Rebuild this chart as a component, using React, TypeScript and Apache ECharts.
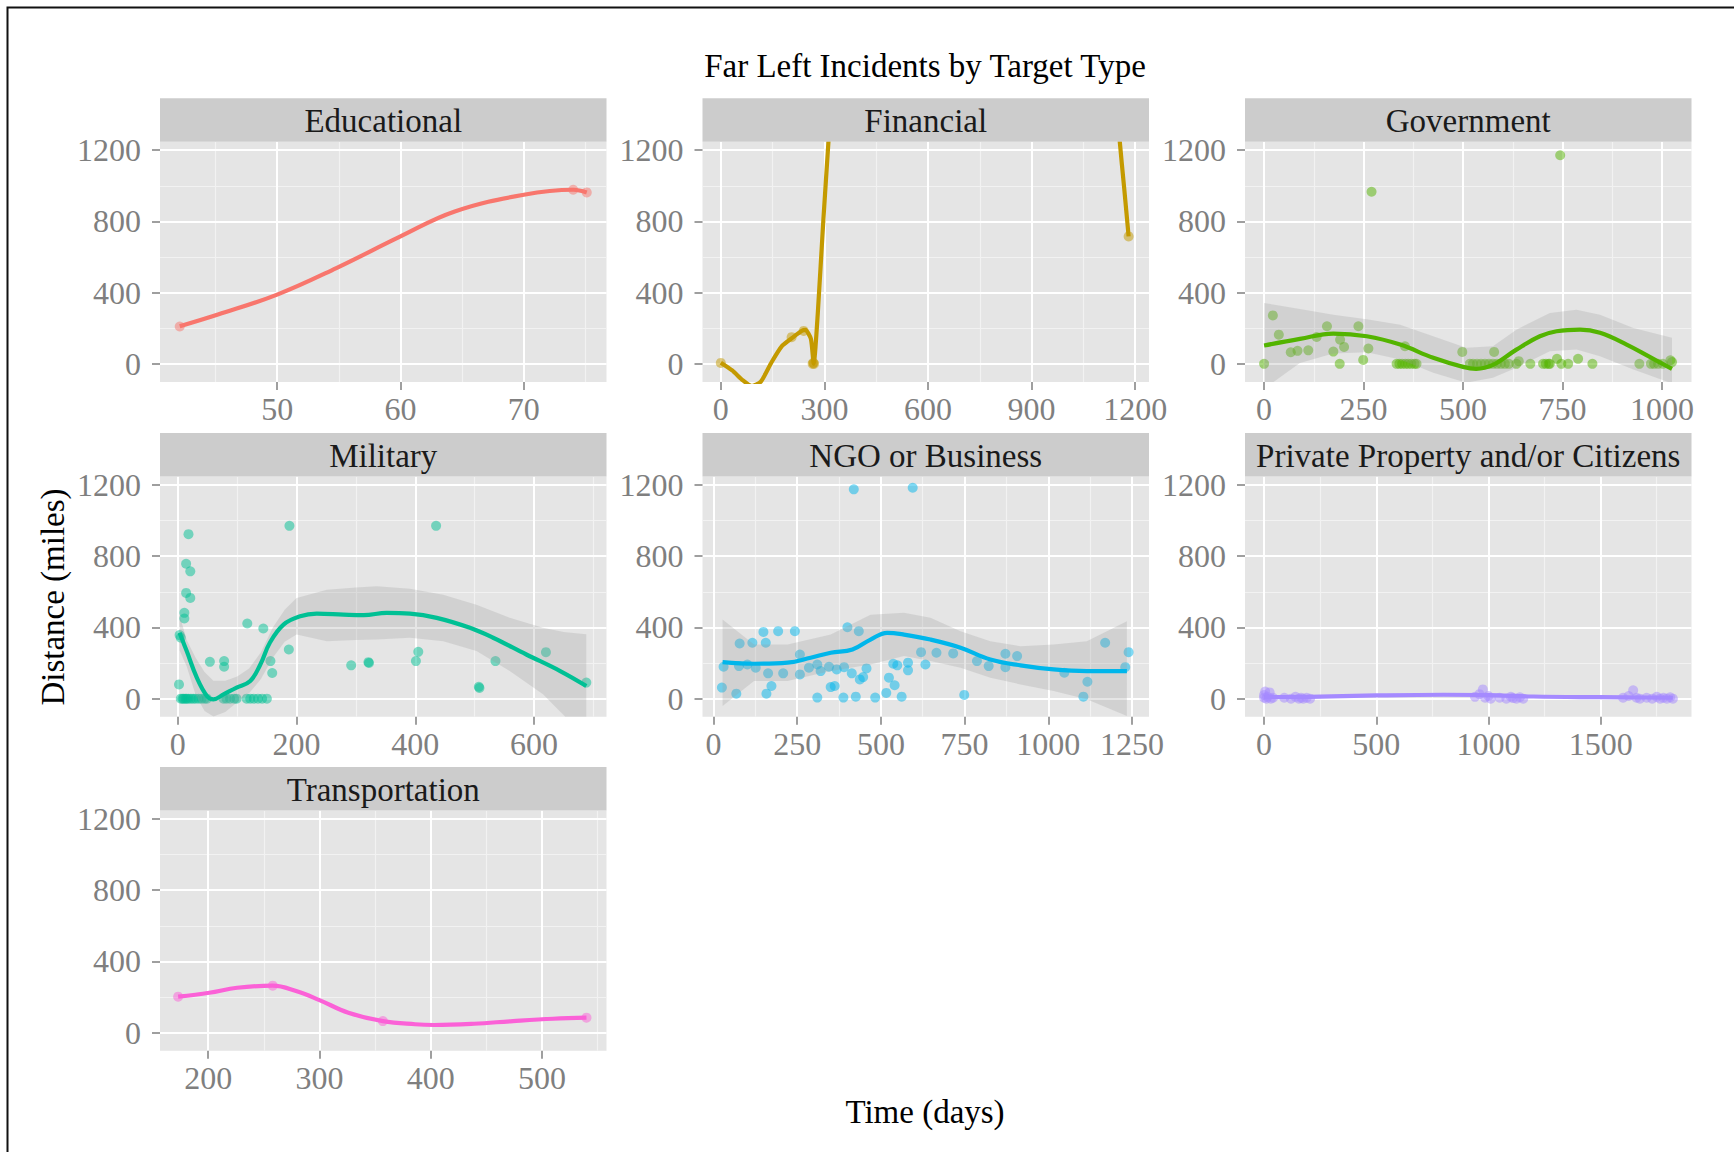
import React, { useEffect, useRef } from "react";
import * as echarts from "echarts";

const FONT = '"Liberation Serif", "Times New Roman", serif';

// ---- shared y scale ----
const yRange = [-102, 1248];
const yTicks = [0, 400, 800, 1200];
const yMinor = [200, 600, 1000];

// ---- panel names and colours ----
const panelTitles = [
  "Educational",
  "Financial",
  "Government",
  "Military",
  "NGO or Business",
  "Private Property and/or Citizens",
  "Transportation",
];
const panelColors = ["#F8766D", "#C49A00", "#53B400", "#00C094", "#00B6EB", "#A58AFF", "#FB61D7"];

// ---- Educational ----
const eduXRange = [40.5, 76.7];
const eduTicks = [50, 60, 70];
const eduMinor = [45, 55, 65, 75];
const eduPoints = [[42.1, 210], [74.0, 978], [75.1, 963]];
const eduSmooth = [[42.1, 211], [45.2, 277], [50, 389], [54.8, 538], [60, 716], [64.4, 856], [70, 950], [74, 978], [75.1, 963]];

// ---- Financial ----
const finXRange = [-53, 1240];
const finTicks = [0, 300, 600, 900, 1200];
const finMinor = [150, 450, 750, 1050];
const finPoints = [[0, 5], [205, 150], [240, 185], [266, 0], [268, 6], [270, 0], [1181, 716]];
const finSmooth = [
  [0, 6], [33, -37], [64, -93], [90, -125], [116, -100], [147, 9], [178, 102], [209, 149], [235, 186],
  [245, 191], [261, 140], [269, 0], [281, 288], [297, 809], [312, 1256], [340, 2100], [600, 6000],
  [900, 5500], [1130, 1900], [1155, 1256], [1168, 990], [1181, 716],
];

// ---- Government ----
const govXRange = [-48, 1074];
const govTicks = [0, 250, 500, 750, 1000];
const govMinor = [125, 375, 625, 875];
const govPoints = [
  [270, 967], [744, 1172], [22, 272], [0, 0], [37, 164], [67, 65], [84, 73], [111, 76], [132, 151],
  [158, 211], [174, 69], [191, 136], [190, 0], [201, 95], [237, 211], [249, 22], [262, 86], [354, 99],
  [333, 0], [340, 0], [347, 0], [355, 0], [362, 0], [370, 0], [378, 0], [383, 0],
  [498, 67], [578, 67], [640, 15], [669, 0], [736, 28], [789, 28],
  [517, 0], [525, 0], [535, 0], [545, 0], [555, 0], [565, 0], [575, 0], [585, 0], [595, 0], [605, 0], [615, 0], [634, 0],
  [701, 0], [708, 0], [715, 0], [718, 0], [747, 0], [764, 0], [825, 0],
  [943, 0], [972, 0], [980, 0], [990, 0], [1002, 0], [1021, 20], [1025, 10],
];
const govSmooth = [
  [0, 103], [90, 140], [174, 170], [258, 155], [342, 108], [425, 34], [500, -17], [533, -28], [575, -6],
  [634, 80], [693, 155], [735, 183], [794, 192], [844, 174], [911, 108], [969, 39], [1025, -28],
];
const govUpper = [
  [0, 342], [90, 308], [174, 276], [258, 250], [342, 220], [425, 155], [508, 90], [575, 99], [634, 192],
  [718, 286], [785, 304], [844, 276], [928, 202], [1025, 146],
];
const govLower = [
  [0, -140], [90, 5], [174, 58], [258, 65], [342, 24], [425, -50], [508, -106], [575, -78], [634, -22],
  [718, 71], [785, 80], [844, 43], [928, -32], [1025, -110],
];

// ---- Military ----
const milXRange = [-30, 722];
const milTicks = [0, 200, 400, 600];
const milMinor = [100, 300, 500, 700];
const milPoints = [
  [188, 971], [435, 971], [18, 924], [14, 758], [21, 715], [14, 594], [21, 566], [11, 482], [11, 450],
  [3, 357], [5, 342], [2, 80], [117, 422], [144, 394], [187, 276], [54, 207], [78, 211], [78, 179],
  [156, 211], [159, 144], [292, 187], [321, 205], [322, 200], [401, 211], [405, 263], [507, 67], [508, 60],
  [535, 211], [620, 261], [688, 90],
  [5, 0], [8, 0], [10, 0], [13, 0], [15, 0], [18, 0], [22, 0], [26, 0], [30, 0], [35, 0], [40, 0], [45, 0], [49, 0],
  [77, 0], [82, 0], [88, 0], [95, 0], [99, 0], [116, 0], [122, 0], [128, 0], [135, 0], [142, 0], [150, 0],
];
const milSmooth = [
  [3, 370], [15, 267], [32, 118], [49, 15], [60, -4], [77, 24], [99, 62], [122, 99], [139, 192], [155, 314],
  [178, 416], [206, 463], [234, 478], [279, 472], [313, 469], [352, 482], [391, 478], [436, 454], [492, 398],
  [531, 342], [587, 248], [644, 155], [688, 71],
];
const milUpper = [
  [3, 470], [15, 330], [30, 230], [45, 150], [60, 100], [80, 100], [100, 125], [120, 170], [140, 260],
  [160, 400], [180, 500], [200, 566], [251, 612], [300, 625], [335, 631], [391, 618], [447, 584],
  [503, 528], [559, 454], [615, 398], [650, 375], [688, 362],
];
const milLower = [
  [3, 270], [15, 180], [30, 20], [45, -70], [60, -100], [80, -75], [100, -20], [120, 30], [140, 110],
  [160, 230], [180, 320], [200, 360], [251, 323], [300, 330], [335, 332], [391, 342], [447, 323],
  [503, 267], [559, 155], [615, 24], [640, -60], [688, -220],
];

// ---- NGO or Business ----
const ngoXRange = [-33, 1301];
const ngoTicks = [0, 250, 500, 750, 1000, 1250];
const ngoMinor = [125, 375, 625, 875, 1125];
const ngoPoints = [
  [419, 1176], [595, 1185], [25, 62], [30, 179], [68, 28], [76, 183], [78, 310], [116, 314], [101, 192],
  [126, 174], [149, 375], [156, 314], [158, 28], [163, 142], [173, 71], [193, 379], [208, 142], [243, 379],
  [258, 248], [258, 136], [285, 174], [310, 6], [310, 192], [320, 155], [345, 179], [350, 65], [362, 71],
  [368, 164], [388, 6], [390, 177], [400, 401], [413, 142], [425, 11], [434, 379], [437, 108], [447, 121],
  [457, 170], [483, 6], [516, 32], [524, 118], [537, 196], [541, 75], [549, 187], [562, 11], [581, 202],
  [581, 159], [620, 261], [633, 192], [666, 258], [716, 254], [749, 21], [787, 211], [822, 183], [872, 252],
  [872, 177], [907, 239], [1048, 146], [1105, 11], [1117, 95], [1170, 314], [1230, 177], [1240, 261],
];
const ngoSmooth = [
  [27, 205], [121, 196], [221, 202], [290, 230], [350, 258], [415, 276], [469, 332], [519, 370], [569, 360],
  [648, 332], [738, 286], [827, 220], [917, 187], [1016, 164], [1115, 155], [1235, 155],
];
const ngoUpper = [
  [27, 444], [121, 304], [221, 304], [350, 360], [469, 472], [569, 482], [648, 454], [738, 379], [827, 323],
  [917, 295], [1016, 304], [1115, 323], [1235, 435],
];
const ngoLower = [
  [27, -41], [121, 99], [221, 99], [350, 155], [469, 192], [569, 239], [648, 211], [738, 174], [827, 118],
  [917, 80], [1016, 43], [1115, -4], [1235, -97],
];

// ---- Private Property and/or Citizens ----
const priXRange = [-85, 1905];
const priTicks = [0, 500, 1000, 1500];
const priMinor = [250, 750, 1250, 1750];
const priPoints = [
  [0, 20], [5, 40], [15, 10], [25, 35], [40, 5], [30, 0], [10, 0], [0, 5],
  [90, 5], [120, 0], [140, 10], [155, 0], [165, 5], [175, 0], [190, 5], [205, 0],
  [940, 10], [960, 25], [975, 52], [985, 5], [1000, 15], [1010, 0],
  [1050, 5], [1080, 0], [1100, 10], [1110, 3], [1125, 0], [1140, 8], [1155, 0],
  [1600, 5], [1625, 15], [1645, 47], [1660, 5], [1675, 0],
  [1705, 5], [1730, 0], [1750, 10], [1765, 0], [1780, 5], [1795, 0], [1810, 8], [1822, 0],
];
const priSmooth = [[0, 8], [200, 10], [500, 18], [800, 22], [1000, 20], [1200, 12], [1500, 8], [1822, 5]];

// ---- Transportation ----
const traXRange = [156.7, 558];
const traTicks = [200, 300, 400, 500];
const traMinor = [250, 350, 450, 550];
const traPoints = [[173, 202], [258, 264], [357, 65], [540, 84]];
const traSmooth = [
  [173, 202], [201, 224], [226, 252], [258, 264], [279, 234], [300, 183], [326, 112], [357, 65], [386, 47],
  [403, 43], [439, 50], [474, 65], [510, 78], [540, 84],
];

const panels = [
  { xRange: eduXRange, ticks: eduTicks, minor: eduMinor, points: eduPoints, smooth: eduSmooth, smoothK: 0.4 },
  { xRange: finXRange, ticks: finTicks, minor: finMinor, points: finPoints, smooth: finSmooth, smoothK: 0.2 },
  { xRange: govXRange, ticks: govTicks, minor: govMinor, points: govPoints, smooth: govSmooth, upper: govUpper, lower: govLower, smoothK: 0.4 },
  { xRange: milXRange, ticks: milTicks, minor: milMinor, points: milPoints, smooth: milSmooth, upper: milUpper, lower: milLower, smoothK: 0.4 },
  { xRange: ngoXRange, ticks: ngoTicks, minor: ngoMinor, points: ngoPoints, smooth: ngoSmooth, upper: ngoUpper, lower: ngoLower, smoothK: 0.4 },
  { xRange: priXRange, ticks: priTicks, minor: priMinor, points: priPoints, smooth: priSmooth, smoothK: 0.4 },
  { xRange: traXRange, ticks: traTicks, minor: traMinor, points: traPoints, smooth: traSmooth, smoothK: 0.4 },
];

// layout
const colLeft = [160, 702.5, 1245];
const rowTop = [141.7, 476.5, 810.5];
const plotW = 446.5;
const plotH = 240.3;
const stripH = 43.5;
const cellPos = [[0, 0], [0, 1], [0, 2], [1, 0], [1, 1], [1, 2], [2, 0]];

const plainNumber = (v: number) => String(v);

function buildOption() {
  const grid: any[] = [];
  const xAxis: any[] = [];
  const yAxis: any[] = [];
  const series: any[] = [];
  const graphic: any[] = [];

  panels.forEach((p: any, i: number) => {
    const [r, c] = cellPos[i];
    const left = colLeft[c];
    const top = rowTop[r];
    grid.push({
      left, top, width: plotW, height: plotH, show: true,
      backgroundColor: "#E5E5E5", borderWidth: 0, containLabel: false,
    });
    // minor x
    xAxis.push({
      type: "value", gridIndex: i, min: p.xRange[0], max: p.xRange[1], z: 1,
      axisLine: { show: false, onZero: false },
      axisTick: { show: false, customValues: p.minor },
      axisLabel: { show: false, customValues: p.minor },
      splitLine: { show: true, lineStyle: { color: "#F2F2F2", width: 1.2 } },
    });
    // major x
    xAxis.push({
      type: "value", gridIndex: i, min: p.xRange[0], max: p.xRange[1], position: "bottom", z: 2,
      axisLine: { show: false, onZero: false },
      axisTick: { show: true, length: 8, customValues: p.ticks, lineStyle: { color: "#7F7F7F", width: 1.5 } },
      axisLabel: {
        customValues: p.ticks, color: "#7F7F7F", fontFamily: FONT, fontSize: 32, margin: 11,
        hideOverlap: false, showMinLabel: true, showMaxLabel: true, formatter: plainNumber,
      },
      splitLine: { show: true, lineStyle: { color: "#FFFFFF", width: 2 } },
    });
    // minor y
    yAxis.push({
      type: "value", gridIndex: i, min: yRange[0], max: yRange[1], z: 1,
      axisLine: { show: false, onZero: false },
      axisTick: { show: false, customValues: yMinor },
      axisLabel: { show: false, customValues: yMinor },
      splitLine: { show: true, lineStyle: { color: "#F2F2F2", width: 1.2 } },
    });
    // major y
    yAxis.push({
      type: "value", gridIndex: i, min: yRange[0], max: yRange[1], position: "left", z: 2,
      axisLine: { show: false, onZero: false },
      axisTick: { show: true, length: 8, customValues: yTicks, lineStyle: { color: "#7F7F7F", width: 1.5 } },
      axisLabel: {
        customValues: yTicks, color: "#7F7F7F", fontFamily: FONT, fontSize: 32, margin: 19,
        hideOverlap: false, showMinLabel: true, showMaxLabel: true, formatter: plainNumber,
      },
      splitLine: { show: true, lineStyle: { color: "#FFFFFF", width: 2 } },
    });

    const xi = 2 * i + 1;
    const yi = 2 * i + 1;
    const color = panelColors[i];

    series.push({
      type: "scatter", xAxisIndex: xi, yAxisIndex: yi, data: p.points, symbolSize: 10, z: 3,
      itemStyle: { color, opacity: 0.5 }, silent: true, clip: true,
    });
    if (p.upper) {
      const upper = p.upper;
      const lower = p.lower;
      series.push({
        type: "custom", xAxisIndex: xi, yAxisIndex: yi, clip: true, silent: true, z: 4,
        data: [[upper[0][0], upper[0][1]]],
        renderItem: (_params: any, api: any) => {
          const pts: number[][] = [];
          for (let k = 0; k < upper.length; k++) pts.push(api.coord(upper[k]));
          for (let k = lower.length - 1; k >= 0; k--) pts.push(api.coord(lower[k]));
          return {
            type: "polygon",
            shape: { points: pts },
            style: { fill: "rgba(153,153,153,0.26)" },
          };
        },
      });
    }
    series.push({
      type: "line", xAxisIndex: xi, yAxisIndex: yi, data: p.smooth, smooth: p.smoothK,
      showSymbol: false, z: 5, silent: true, clip: true,
      lineStyle: { color, width: 4.2 },
    });

    // strip
    graphic.push({
      type: "rect", shape: { x: left, y: top - stripH, width: plotW, height: stripH },
      style: { fill: "#CCCCCC" }, silent: true, z: 10,
    });
    graphic.push({
      type: "text", x: left + plotW / 2, y: top - stripH / 2 + 1, silent: true, z: 11,
      style: {
        text: panelTitles[i], fill: "#1A1A1A", fontSize: 33, fontFamily: FONT,
        align: "center", verticalAlign: "middle",
      },
    });
  });

  // title and axis titles
  graphic.push({
    type: "text", x: 925, y: 66, silent: true,
    style: { text: "Far Left Incidents by Target Type", fill: "#000000", fontSize: 33, fontFamily: FONT, align: "center", verticalAlign: "middle" },
  });
  graphic.push({
    type: "text", x: 925, y: 1112, silent: true,
    style: { text: "Time (days)", fill: "#000000", fontSize: 33, fontFamily: FONT, align: "center", verticalAlign: "middle" },
  });
  graphic.push({
    type: "text", x: 53, y: 597, rotation: Math.PI / 2, silent: true,
    style: { text: "Distance (miles)", fill: "#000000", fontSize: 33, fontFamily: FONT, align: "center", verticalAlign: "middle" },
  });
  // outer frame (left and top edges visible in the picture)
  graphic.push({
    type: "polyline", silent: true,
    shape: { points: [[7.5, 1160], [7.5, 7.5], [1740, 7.5]] },
    style: { stroke: "#111111", lineWidth: 2, fill: null },
  });

  return {
    animation: false,
    backgroundColor: "#FFFFFF",
    textStyle: { fontFamily: FONT },
    grid, xAxis, yAxis, series, graphic,
  };
}

export default function App() {
  const ref = useRef<HTMLDivElement>(null);
  useEffect(() => {
    if (!ref.current) return;
    const chart = echarts.init(ref.current, undefined, { renderer: "svg" });
    chart.setOption(buildOption() as any);
    return () => chart.dispose();
  }, []);
  return (
    <div
      ref={ref}
      style={{ position: "absolute", left: 0, top: 0, width: 1734, height: 1152, background: "#fff" }}
    />
  );
}
